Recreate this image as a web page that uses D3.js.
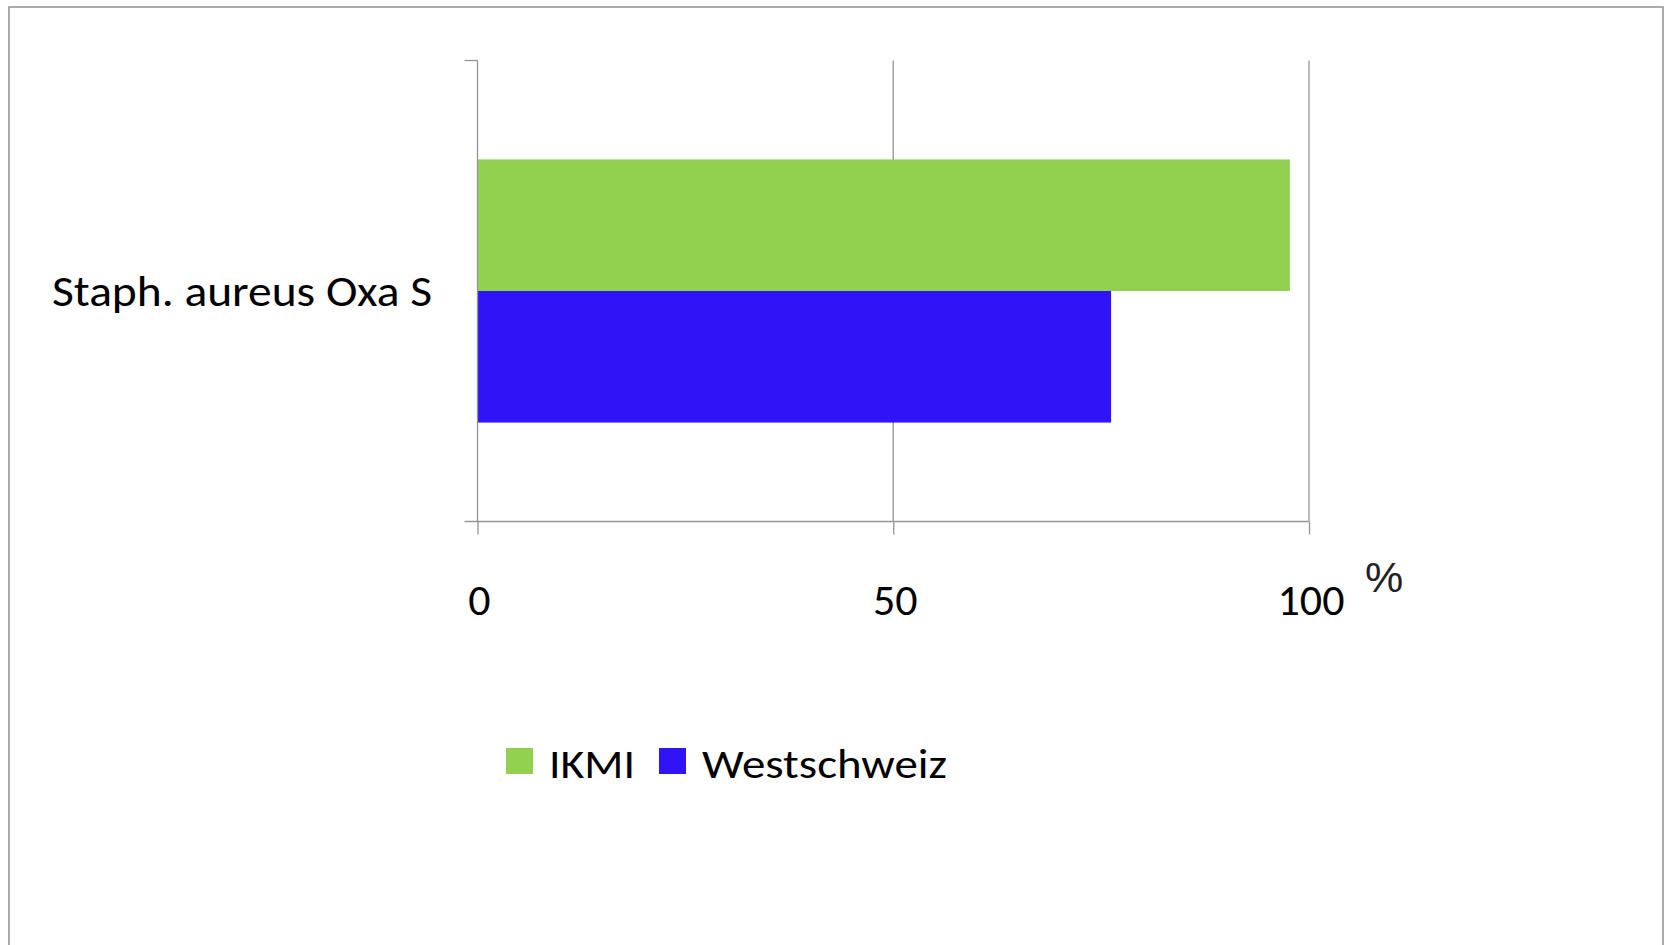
<!DOCTYPE html>
<html>
<head>
<meta charset="utf-8">
<script src="https://cdn.jsdelivr.net/npm/d3@7"></script>
<style>
  html, body { margin: 0; padding: 0; background: #fff; }
  svg { display: block; }
  text { font-family: Carlito, Lato, "Open Sans", sans-serif; fill: #000; }
</style>
</head>
<body>
<svg id="chart" width="1665" height="945"></svg>
<script>
// Share of susceptible isolates (%)
const categories = ["Staph. aureus Oxa S"];
const seriesNames = ["IKMI", "Westschweiz"];
const ikmiValues = [97.7];
const westschweizValues = [76.2];
const xTicks = [0, 50, 100];
const seriesColors = ["#92d050", "#3014f8"];

const svg = d3.select("#chart");
const gridColor = "#969696";

// outer chart frame (bottom edge runs off the canvas)
svg.append("rect")
  .attr("x", 9).attr("y", 7)
  .attr("width", 1654).attr("height", 960)
  .attr("fill", "none")
  .attr("stroke", gridColor)
  .attr("stroke-width", 1.6);

const plot = { left: 477.5, right: 1309, top: 60.5, bottom: 521.5 };

const x = d3.scaleLinear().domain([0, 100]).range([plot.left, plot.right]);
const y = d3.scaleBand().domain(categories)
  .range([plot.top, plot.bottom])
  .paddingInner(0).paddingOuter(0.376);
const ySub = d3.scaleBand().domain(seriesNames).range([0, y.bandwidth()]);

const rows = categories.map((c, i) => ({
  category: c,
  values: [ikmiValues[i], westschweizValues[i]]
}));

// vertical gridlines
svg.append("g")
  .selectAll("line")
  .data(xTicks.filter(t => t > 0))
  .join("line")
  .attr("x1", d => x(d)).attr("x2", d => x(d))
  .attr("y1", plot.top).attr("y2", plot.bottom)
  .attr("stroke", gridColor).attr("stroke-width", 1.3);

// bars
const groups = svg.append("g").selectAll("g")
  .data(rows)
  .join("g")
  .attr("transform", d => `translate(0,${y(d.category)})`);

groups.selectAll("rect")
  .data(d => d.values.map((v, i) => ({ series: seriesNames[i], value: v, color: seriesColors[i] })))
  .join("rect")
  .attr("x", x(0))
  .attr("y", d => ySub(d.series))
  .attr("width", d => x(d.value) - x(0))
  .attr("height", ySub.bandwidth())
  .attr("fill", d => d.color);

// x axis with ticks pointing down
const xAxis = d3.axisBottom(x).tickValues(xTicks).tickSize(13).tickFormat("");
const gx = svg.append("g")
  .attr("transform", `translate(0,${plot.bottom})`)
  .call(xAxis);
gx.select(".domain").remove();
gx.selectAll(".tick line").attr("stroke", gridColor).attr("stroke-width", 1.3);
gx.append("line")
  .attr("x1", plot.left - 13).attr("x2", plot.right)
  .attr("y1", 0).attr("y2", 0)
  .attr("stroke", gridColor).attr("stroke-width", 1.3);

// y axis line with the small tick at the top
const yAxisG = svg.append("g");
yAxisG.append("line")
  .attr("x1", plot.left).attr("x2", plot.left)
  .attr("y1", plot.top).attr("y2", plot.bottom)
  .attr("stroke", gridColor).attr("stroke-width", 1.3);
yAxisG.append("line")
  .attr("x1", plot.left - 13).attr("x2", plot.left)
  .attr("y1", plot.top).attr("y2", plot.top)
  .attr("stroke", gridColor).attr("stroke-width", 1.3);

// tick labels
svg.append("g").selectAll("text")
  .data(xTicks)
  .join("text")
  .attr("x", d => x(d) + 2)
  .attr("y", 615)
  .attr("text-anchor", "middle")
  .attr("font-size", 44)
  .text(d => d);

// unit label
svg.append("text")
  .attr("x", 1384).attr("y", 592)
  .attr("text-anchor", "middle")
  .attr("font-size", 43)
  .style("font-family", "'Liberation Sans', Arial, sans-serif")
  .style("fill", "#222")
  .text("%");

// category label
svg.append("g").selectAll("text")
  .data(categories)
  .join("text")
  .attr("x", 432)
  .attr("y", d => y(d) + y.bandwidth() / 2 + 15)
  .attr("text-anchor", "end")
  .attr("font-size", 44)
  .attr("textLength", 380)
  .attr("lengthAdjust", "spacingAndGlyphs")
  .text(d => d);

// legend
const legendItems = [
  { name: seriesNames[0], color: seriesColors[0], x: 506, textWidth: 86 },
  { name: seriesNames[1], color: seriesColors[1], x: 659, textWidth: 245 }
];
const lg = svg.append("g").selectAll("g")
  .data(legendItems)
  .join("g")
  .attr("transform", d => `translate(${d.x},748)`);
lg.append("rect")
  .attr("width", 27).attr("height", 26)
  .attr("fill", d => d.color);
lg.append("text")
  .attr("x", 43).attr("y", 30)
  .attr("font-size", 42)
  .attr("textLength", d => d.textWidth)
  .attr("lengthAdjust", "spacingAndGlyphs")
  .text(d => d.name);
</script>
</body>
</html>
